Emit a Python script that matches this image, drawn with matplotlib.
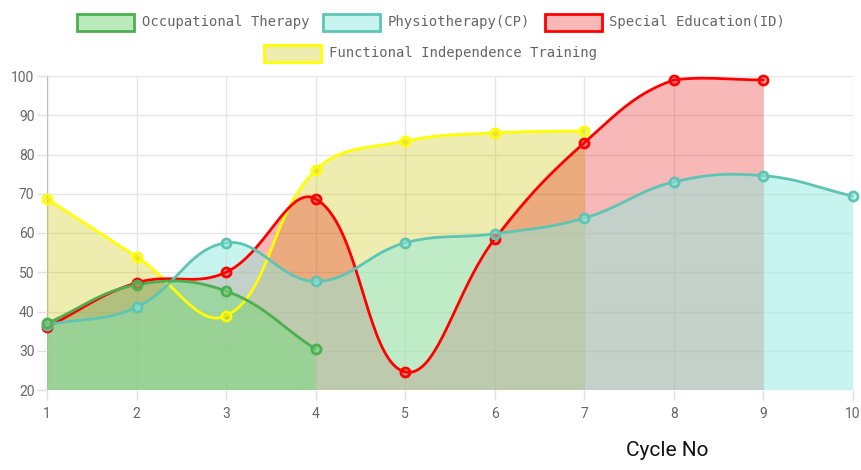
import numpy as np
import matplotlib
matplotlib.use("Agg")
import matplotlib.pyplot as plt
from matplotlib.patches import Rectangle

# data
cycles = [1, 2, 3, 4, 5, 6, 7, 8, 9, 10]
occupational = [37.0, 46.8, 45.2, 30.4]
physio = [36.6, 41.1, 57.5, 47.7, 57.5, 59.8, 63.8, 73.0, 74.6, 69.4]
special = [36.0, 47.3, 50.0, 68.7, 24.6, 58.5, 83.0, 99.0, 99.0]
functional = [68.7, 54.0, 38.9, 76.0, 83.4, 85.5, 86.0]

labels = ["Occupational Therapy", "Physiotherapy(CP)", "Special Education(ID)",
          "Functional Independence Training"]
yticks = [20, 30, 40, 50, 60, 70, 80, 90, 100]
xlabel = "Cycle No"

# styles
line_colors = ["#4caf50", "#5ec4b4", "#ff0000", "#ffff00"]
fill_colors = [(0.47, 0.85, 0.49, 0.5), (0.57, 0.92, 0.87, 0.5),
               (0.90, 0.0, 0.0, 0.28), (0.80, 0.76, 0.0, 0.31)]
values = [occupational, physio, special, functional]

W, H = 862, 470
YMIN, YMAX = 20, 100
fig = plt.figure(figsize=(W / 100, H / 100), dpi=100)
ax = fig.add_axes([47 / W, 1 - 390 / H, 806 / W, 314 / H])
ax.set_xlim(cycles[0], cycles[-1])
ax.set_ylim(YMIN, YMAX)

SX = 806 / 9
SY = 314 / 80


def spline(xs, ys, t=0.4):
    # chart.js style cubic bezier, control points computed in pixel space
    px = np.array(xs, float) * SX
    py = np.array(ys, float) * SY
    n = len(px)
    cprev, cnext = [], []
    for i in range(n):
        a = max(i - 1, 0)
        b = min(i + 1, n - 1)
        d01 = np.hypot(px[i] - px[a], py[i] - py[a])
        d12 = np.hypot(px[b] - px[i], py[b] - py[i])
        tot = d01 + d12
        s01 = d01 / tot if tot else 0
        s12 = d12 / tot if tot else 0
        dx, dy = px[b] - px[a], py[b] - py[a]
        cprev.append((px[i] - t * s01 * dx, py[i] - t * s01 * dy))
        cnext.append((px[i] + t * s12 * dx, py[i] + t * s12 * dy))
    # keep control points inside the chart area
    lo, hi = YMIN * SY, YMAX * SY
    cprev = [(x, min(max(y, lo), hi)) for x, y in cprev]
    cnext = [(x, min(max(y, lo), hi)) for x, y in cnext]
    u = np.linspace(0, 1, 40)[:, None]
    out = [np.array([[px[0], py[0]]])]
    for i in range(n - 1):
        p0 = np.array([px[i], py[i]])
        p1 = np.array(cnext[i])
        p2 = np.array(cprev[i + 1])
        p3 = np.array([px[i + 1], py[i + 1]])
        seg = ((1 - u) ** 3) * p0 + 3 * ((1 - u) ** 2) * u * p1 + 3 * (1 - u) * u ** 2 * p2 + u ** 3 * p3
        out.append(seg[1:])
    pts = np.vstack(out)
    return pts[:, 0] / SX, pts[:, 1] / SY


# grid
for y in yticks:
    ax.axhline(y, color="#e6e6e6", lw=1, zorder=0)
for x in cycles:
    ax.axvline(x, color="#e6e6e6", lw=1, zorder=0)
ax.axvline(cycles[0], color="#bdbdbd", lw=1, zorder=0.5)
for s in ax.spines.values():
    s.set_visible(False)

curves = []
for vals in values:
    xs = cycles[:len(vals)]
    curves.append(spline(xs, vals))

# fills, drawn last dataset first like chart.js
for k in range(len(values) - 1, -1, -1):
    cx, cy = curves[k]
    ax.fill(np.r_[cx, cx[-1], cx[0]], np.r_[cy, YMIN, YMIN], color=fill_colors[k],
            lw=0, zorder=1 + (3 - k) * 0.1)

for k in range(len(values) - 1, -1, -1):
    cx, cy = curves[k]
    ax.plot(cx, cy, color=line_colors[k], lw=2, zorder=3 + (3 - k) * 0.1,
            solid_capstyle="round", clip_on=False)
    vals = values[k]
    ax.plot(cycles[:len(vals)], vals, ls="none", marker="o", ms=6.5, mew=2,
            mec=line_colors[k], mfc=fill_colors[k], zorder=4 + (3 - k) * 0.1, clip_on=False)

ax.set_yticks(yticks)
ax.set_xticks(cycles)
ax.tick_params(axis="y", length=7, width=1, color="#e0e0e0", pad=2,
               labelcolor="#666666", labelsize=10)
ax.tick_params(axis="x", length=7, width=1, color="#e0e0e0", pad=5,
               labelcolor="#666666", labelsize=10)
for lab in ax.get_xticklabels() + ax.get_yticklabels():
    lab.set_fontfamily(["Roboto", "DejaVu Sans"])

fig.text(667 / W, 1 - 451 / H, xlabel, ha="center", va="center", fontsize=15,
         family=["Roboto", "DejaVu Sans"], color="#111111")

# legend, two centred rows
renderer = fig.canvas.get_renderer()
box_w, box_h, gap, spacing = 57, 17, 8, 14
rows = [[0, 1, 2], [3]]
row_y = [22, 53]
for row, yc in zip(rows, row_y):
    texts = []
    widths = []
    for k in row:
        t = fig.text(0, 0, labels[k], fontsize=10, family=["DejaVu Sans Mono"],
                     color="#666666", va="center", ha="left")
        texts.append(t)
        widths.append(t.get_window_extent(renderer).width)
    total = sum(box_w + gap + w for w in widths) + spacing * (len(row) - 1)
    x0 = W / 2 - total / 2
    for k, t, w in zip(row, texts, widths):
        fig.patches.append(Rectangle((x0 / W, 1 - (yc + box_h / 2) / H), box_w / W, box_h / H,
                                     transform=fig.transFigure, facecolor=fill_colors[k],
                                     edgecolor=line_colors[k], lw=2))
        t.set_position(((x0 + box_w + gap) / W, 1 - yc / H))
        x0 += box_w + gap + w + spacing

fig.savefig("out.png", dpi=100)
